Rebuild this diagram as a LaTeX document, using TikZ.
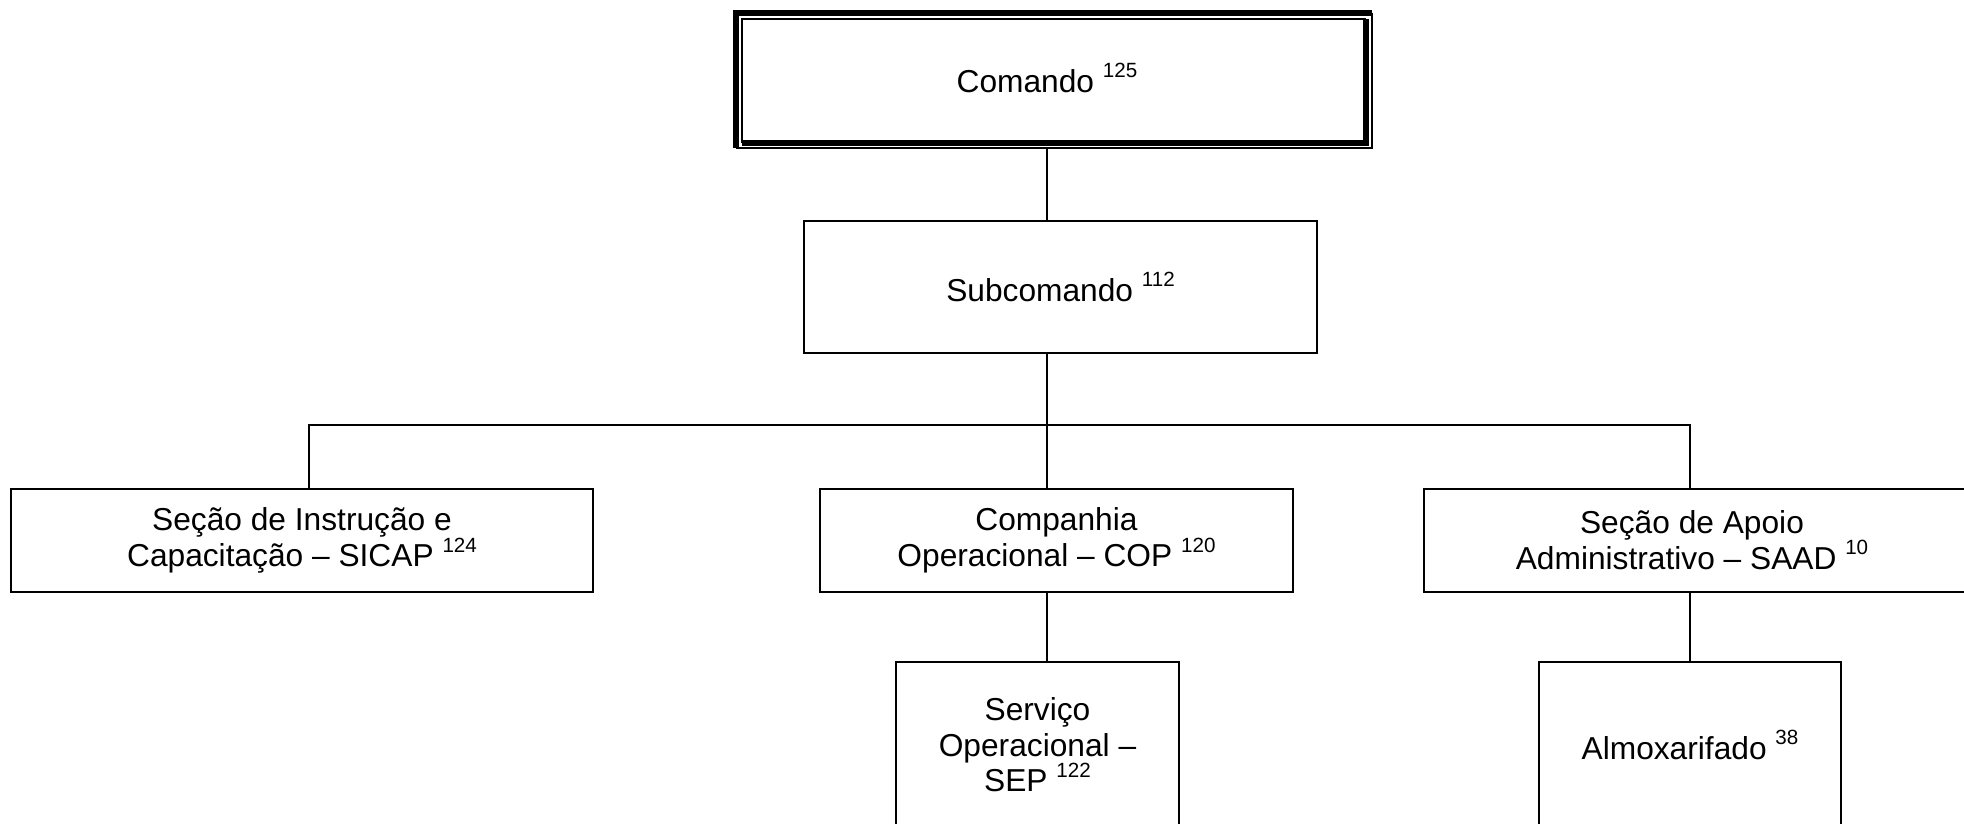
\documentclass[tikz,border=0pt]{standalone}
\usepackage{fontspec}
\setmainfont{Liberation Sans}
\newcommand\supnum[1]{\raisebox{7.2pt}{\fontsize{10.3}{10}\selectfont #1}}
\begin{document}
\begin{tikzpicture}[x=0.5pt,y=-0.5pt,
  unit/.style={draw, line width=1pt, inner sep=0pt, align=center,
    font=\fontsize{15.85}{17.8}\selectfont},
  label text/.style={inner sep=0pt, align=center,
    font=\fontsize{15.85}{17.8}\selectfont},
  link/.style={line width=1pt}]
\useasboundingbox (0,0) rectangle (1964,824);
\clip (0,0) rectangle (1964,824);

% top level: thick-thin framed box
\node[inner sep=0pt, minimum width=318pt, minimum height=67.5pt] (cmd) at (1054,80.5) {};
\node[label text] (cmdtxt) at (1047,78) {Comando \supnum{125}};
\draw[line width=1pt] (cmd.north east) -- (cmd.south east) -- (cmd.south west);
\draw[line width=3pt, line join=miter] (cmd.south west) -- (cmd.north west) -- (cmd.north east);
\coordinate (in1) at ([shift={(6,6)}]cmd.north west);
\coordinate (in2) at ([shift={(-6.5,-5)}]cmd.south east);
\draw[line width=1pt] (in1 |- in2) -- (in1) -- (in2 |- in1);
\draw[line width=3pt, line join=miter] (in2 |- in1) -- (in2) -- (in1 |- in2);

% second level
\node[unit, minimum width=256.5pt, minimum height=66pt] (sub) at (1060.5,287) {Subcomando \supnum{112}};

% third level
\node[unit, minimum width=291pt, minimum height=51.5pt] (sic) at (302,540.5)
  {Seção de Instrução e\\Capacitação – SICAP \supnum{124}};
\node[unit, minimum width=236.5pt, minimum height=51.5pt] (cop) at (1056.5,540.5)
  {Companhia\\Operacional – COP \supnum{120}};
\node[draw, line width=1pt, inner sep=0pt, minimum width=272pt, minimum height=51.5pt] (saad) at (1696,540.5) {};
\node[label text] (saadtxt) at (1692,540) {Seção de Apoio\\Administrativo – SAAD \supnum{10}};

% fourth level
\node[unit, minimum width=141.5pt, minimum height=83pt] (sep) at (1037.5,745)
  {Serviço\\Operacional –\\SEP \supnum{122}};
\node[unit, minimum width=151pt, minimum height=83pt] (alm) at (1690,745)
  {Almoxarifado \supnum{38}};

% connector guides
\coordinate (spine) at (1047,0);
\coordinate (lft) at (309,0);
\coordinate (rgt) at (1690,0);
\coordinate (bus) at (0,425);

% connectors
\draw[link] (spine |- cmd.south) -- (spine |- sub.north);
\draw[link] (spine |- sub.south) -- (spine |- cop.north);
\draw[link] (lft |- sic.north) -- (lft |- bus) -- (rgt |- bus) -- (rgt |- saad.north);
\draw[link] (spine |- cop.south) -- (spine |- sep.north);
\draw[link] (rgt |- saad.south) -- (rgt |- alm.north);
\end{tikzpicture}
\end{document}
